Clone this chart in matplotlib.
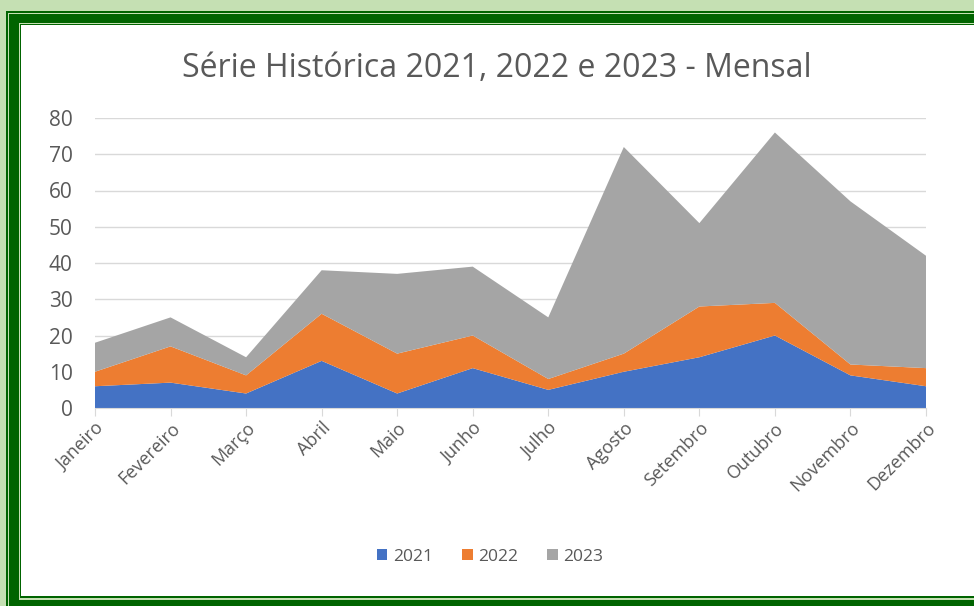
import matplotlib.pyplot as plt
from matplotlib.patches import Rectangle, Patch

# Dados da série histórica (valores por mês)
meses = ["Janeiro", "Fevereiro", "Março", "Abril", "Maio", "Junho",
         "Julho", "Agosto", "Setembro", "Outubro", "Novembro", "Dezembro"]
serie_2021 = [6, 7, 4, 13, 4, 11, 5, 10, 14, 20, 9, 6]
serie_2022 = [4, 10, 5, 13, 11, 9, 3, 5, 14, 9, 3, 5]
serie_2023 = [8, 8, 5, 12, 22, 19, 17, 57, 23, 47, 45, 31]
anos = ["2021", "2022", "2023"]
cores = ["#4472C4", "#ED7D31", "#A5A5A5"]

W, H = 974, 606
VERDE_ESC = "#006400"
VERDE_CLA = "#C5E0B3"
CINZA_TXT = "#595959"
FONTE = "Open Sans"

fig = plt.figure(figsize=(W / 100, H / 100), dpi=100, facecolor=VERDE_CLA)


def moldura(l, t, r, b, cor):
    # retângulo em pixels (origem no canto superior esquerdo)
    ret = Rectangle((l / W, 1 - b / H), (r - l) / W, (b - t) / H,
                    transform=fig.transFigure, facecolor=cor,
                    edgecolor="none", zorder=-10)
    fig.patches.append(ret)


# Borda dupla verde (grossa + fina)
moldura(6, 11, 2000, 2000, VERDE_ESC)
moldura(7.5, 12.5, 2000, 2000, VERDE_CLA)
moldura(9, 14, 2000, 2000, VERDE_ESC)
moldura(18.5, 22.7, 990, 600, VERDE_CLA)
moldura(20, 24, 990, 597.7, VERDE_ESC)
moldura(21, 25, 990, 596, "white")

ax = fig.add_axes([95 / W, (H - 408) / H, (926 - 95) / W, (408 - 118) / H])
ax.set_facecolor("none")

x = list(range(len(meses)))
ax.stackplot(x, serie_2021, serie_2022, serie_2023, colors=cores,
             linewidth=0, zorder=3)

ax.set_xlim(0, len(meses) - 1)
ax.set_ylim(0, 80)
ax.set_yticks(range(0, 81, 10))
ax.grid(axis="y", color="#D9D9D9", linewidth=1, zorder=0)

for lado in ["top", "right", "left"]:
    ax.spines[lado].set_visible(False)
ax.spines["bottom"].set_color("#D9D9D9")
ax.spines["bottom"].set_zorder(4)

ax.set_xticks(x)
ax.set_xticklabels(meses, rotation=45, ha="right", rotation_mode="anchor",
                   fontsize=13, color=CINZA_TXT, family=FONTE)
ax.tick_params(axis="x", length=6, color="#D9D9D9", pad=2)
ax.tick_params(axis="y", length=0, pad=16, labelsize=15, labelcolor=CINZA_TXT)
for rot in ax.get_yticklabels():
    rot.set_family(FONTE)

fig.text(497 / W, 1 - 77 / H, "Série Histórica 2021, 2022 e 2023 - Mensal",
         ha="center", va="baseline", fontsize=23, color=CINZA_TXT, family=FONTE)

alcas = [Patch(facecolor=c, edgecolor="none") for c in cores]
fig.legend(alcas, anos, loc="center", bbox_to_anchor=(490 / W, 1 - 557 / H),
           ncol=3, frameon=False, handlelength=0.6, handleheight=0.6,
           handletextpad=0.3, columnspacing=1.7,
           prop={"family": FONTE, "size": 12.5}, labelcolor=CINZA_TXT)

fig.savefig("out.png", dpi=100, facecolor=VERDE_CLA)
